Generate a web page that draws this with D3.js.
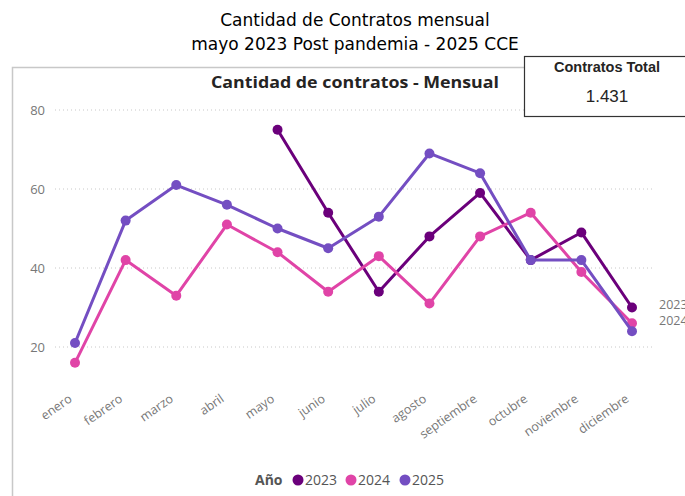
<!DOCTYPE html>
<html><head><meta charset="utf-8">
<script src="https://cdn.jsdelivr.net/npm/d3@7"></script>
<style>html,body{margin:0;padding:0;background:#fff;overflow:hidden;}</style>
</head><body>
<svg id="chart" width="685" height="496"></svg>
<script>
const months = ["enero","febrero","marzo","abril","mayo","junio","julio","agosto","septiembre","octubre","noviembre","diciembre"];
const years = ["2023","2024","2025"];
const values2023 = [null,null,null,null,75,54,34,48,59,42,49,30];
const values2024 = [16,42,33,51,44,34,43,31,48,54,39,26];
const values2025 = [21,52,61,56,50,45,53,69,64,42,42,24];
const colors = ["#6B007B","#E044A7","#744EC2"];
const yTicks = [20,40,60,80];
const totalLabel = "1.431";

const svg = d3.select("#chart");
const font = "'Segoe UI','Open Sans',sans-serif";

// main title
svg.append("text").attr("x",355).attr("y",26).attr("text-anchor","middle")
  .attr("font-family","'DejaVu Sans',Verdana,sans-serif").attr("font-size",17).attr("fill","#000")
  .text("Cantidad de Contratos mensual");
svg.append("text").attr("x",355).attr("y",50).attr("text-anchor","middle")
  .attr("font-family","'DejaVu Sans',Verdana,sans-serif").attr("font-size",17).attr("fill","#000")
  .text("mayo 2023 Post pandemia - 2025 CCE");

// chart card border
svg.append("path").attr("d","M12.5,496 V67.5 H685").attr("fill","none").attr("stroke","#c8c8c8").attr("stroke-width",1.5);

svg.append("text").attr("x",355).attr("y",88).attr("text-anchor","middle")
  .attr("font-family",font).attr("font-weight","bold").attr("font-size",16.5).attr("fill","#252423")
  .attr("textLength",288).attr("lengthAdjust","spacingAndGlyphs")
  .text("Cantidad de contratos - Mensual");

const x = d3.scalePoint().domain(months).range([75,632]);
const y = d3.scaleLinear().domain([0,80]).range([426,110]);

// gridlines
svg.append("g").selectAll("line").data(yTicks).join("line")
  .attr("x1",55).attr("x2",652).attr("y1",d=>y(d)).attr("y2",d=>y(d))
  .attr("stroke","#c8c8c8").attr("stroke-dasharray","1,3").attr("stroke-width",1);

// y axis labels
const yAxis = d3.axisLeft(y).tickValues(yTicks).tickSize(0).tickPadding(0);
const yg = svg.append("g").attr("transform","translate(45,0)").call(yAxis);
yg.select(".domain").remove();
yg.selectAll("text").attr("font-family",font).attr("font-size",13).attr("fill","#777");

// x axis labels
const xAxis = d3.axisBottom(x).tickSize(0).tickPadding(0);
const xg = svg.append("g").attr("transform","translate(0,386)").call(xAxis);
xg.select(".domain").remove();
xg.selectAll("text").attr("font-family",font).attr("font-size",12.5).attr("fill","#777")
  .attr("text-anchor","end").attr("dy","0.75em").attr("y",0)
  .attr("transform","translate(-8,7) rotate(-35)");

const seriesData = [values2023, values2024, values2025];
const line = d3.line().defined(d=>d.v!=null).x(d=>x(d.m)).y(d=>y(d.v));
seriesData.forEach((vals,i)=>{
  const pts = months.map((m,j)=>({m, v: vals[j]}));
  svg.append("path").datum(pts).attr("d",line).attr("fill","none")
    .attr("stroke",colors[i]).attr("stroke-width",3).attr("stroke-linejoin","round");
  svg.append("g").selectAll("circle").data(pts.filter(d=>d.v!=null)).join("circle")
    .attr("cx",d=>x(d.m)).attr("cy",d=>y(d.v)).attr("r",5).attr("fill",colors[i]);
});

// end labels
svg.append("text").attr("x",659).attr("y",309).attr("font-family",font).attr("font-size",12.5).attr("fill","#777").text(years[0]);
svg.append("text").attr("x",659).attr("y",325).attr("font-family",font).attr("font-size",12.5).attr("fill","#777").text(years[1]);

// total card
svg.append("rect").attr("x",524.5).attr("y",56.5).attr("width",170).attr("height",60)
  .attr("fill","#fff").attr("stroke","#333").attr("stroke-width",1.2);
svg.append("text").attr("x",607).attr("y",72).attr("text-anchor","middle")
  .attr("font-family","'Liberation Sans',Arial,sans-serif").attr("font-weight","bold").attr("font-size",14.5).attr("fill","#252423")
  .text("Contratos Total");
svg.append("text").attr("x",607).attr("y",102).attr("text-anchor","middle")
  .attr("font-family","'Liberation Sans',Arial,sans-serif").attr("font-size",17).attr("fill","#252423")
  .text(totalLabel);

// legend
const lg = svg.append("g").attr("transform","translate(0,480)");
lg.append("text").attr("x",255).attr("y",5).attr("font-family",font).attr("font-weight","bold")
  .attr("font-size",14).attr("fill","#555").text("Año");
const legX = [298,351,405];
years.forEach((yr,i)=>{
  lg.append("circle").attr("cx",legX[i]).attr("cy",0).attr("r",5.5).attr("fill",colors[i]);
  lg.append("text").attr("x",legX[i]+7).attr("y",5).attr("font-family",font).attr("font-size",14)
    .attr("fill","#555").text(yr);
});
</script>
</body></html>
